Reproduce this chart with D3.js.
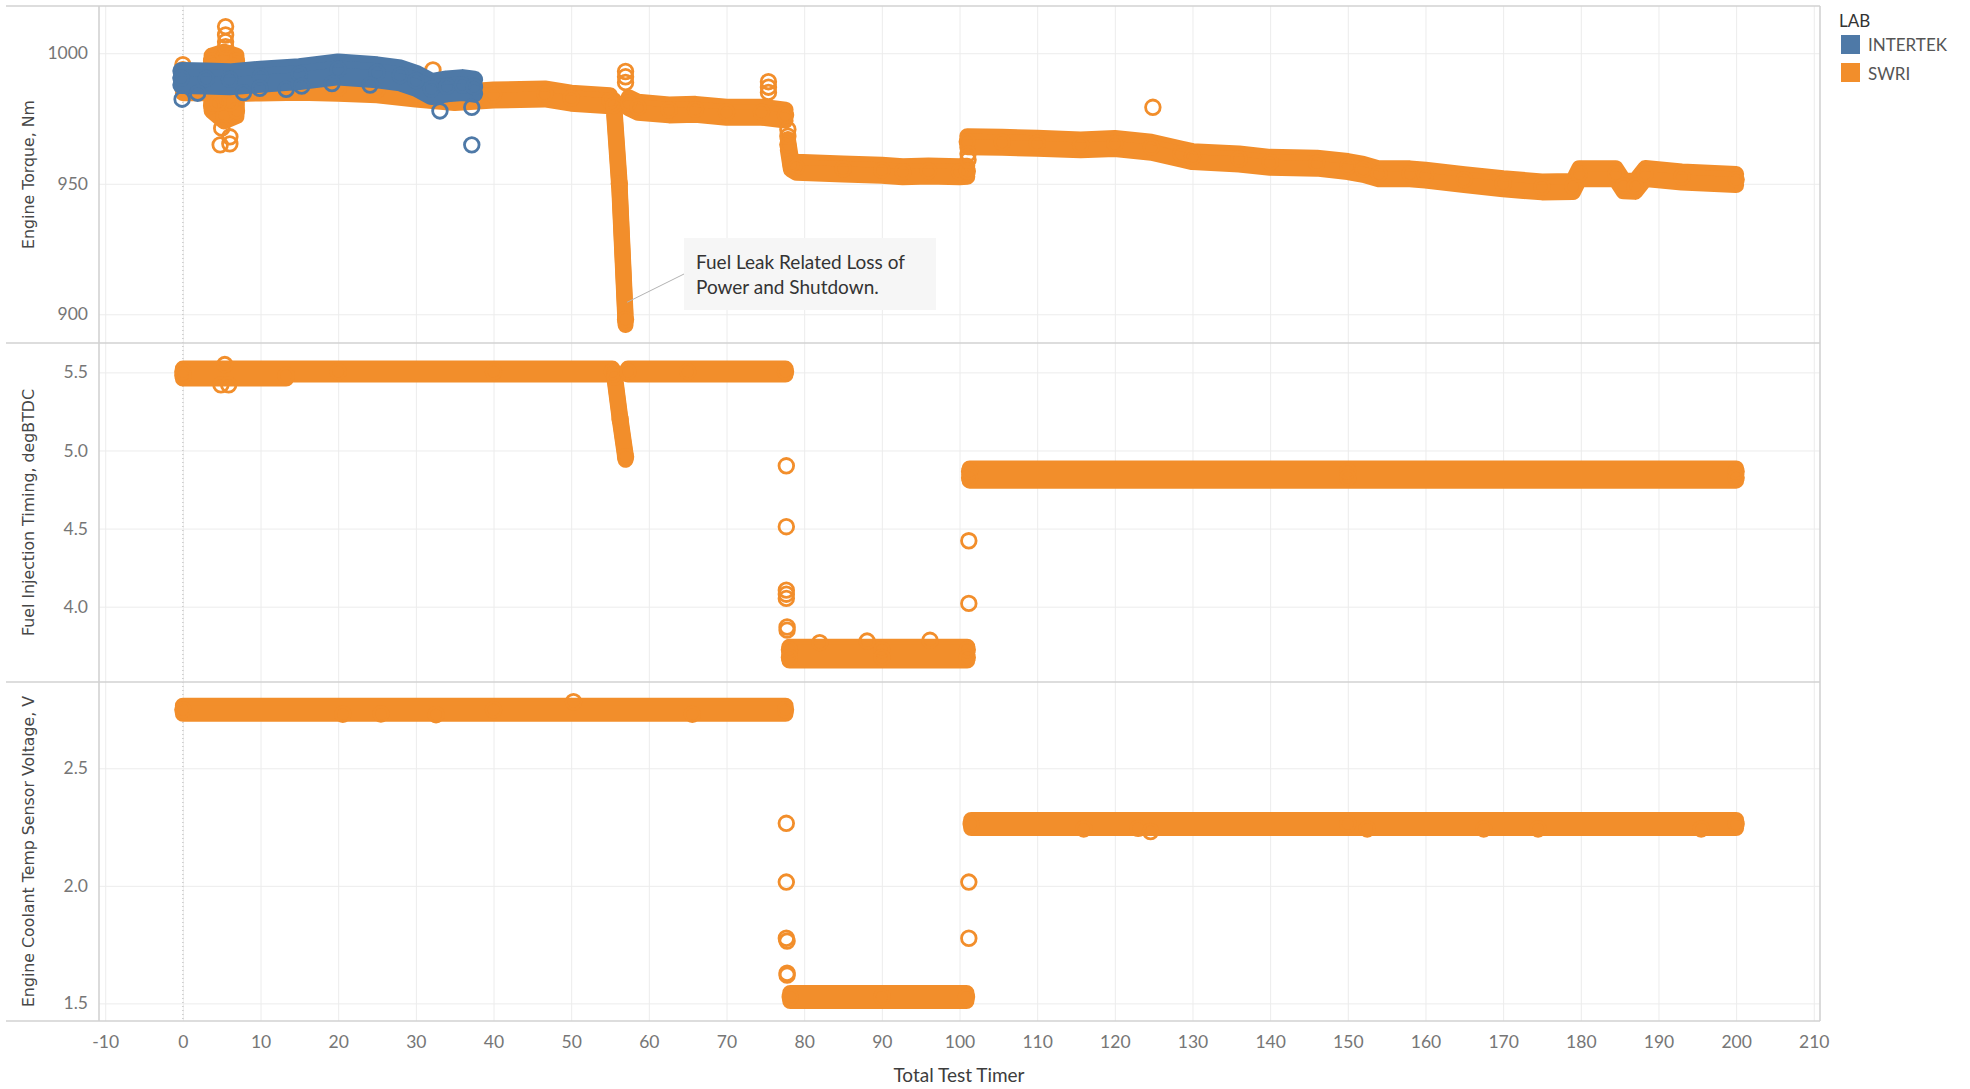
<!DOCTYPE html>
<html>
<head>
<meta charset="utf-8">
<script src="https://cdn.jsdelivr.net/npm/d3@7"></script>
<style>
  html, body { margin: 0; padding: 0; background: #ffffff; }
  svg { display: block; }
</style>
</head>
<body>
<svg id="chart" width="1970" height="1089"></svg>
<script>
// ---------------- DATA ----------------
const labs = ["INTERTEK", "SWRI"];
const labColors = ["#4e79a7", "#f28e2b"];

const xTicks = [-10, 0, 10, 20, 30, 40, 50, 60, 70, 80, 90, 100, 110, 120, 130, 140, 150, 160, 170, 180, 190, 200, 210];
const torqueTicks = [900, 950, 1000];
const timingTicks = [4.0, 4.5, 5.0, 5.5];
const voltageTicks = [1.5, 2.0, 2.5];

const xTitle = "Total Test Timer";
const paneTitles = ["Engine Torque, Nm", "Fuel Injection Timing, degBTDC", "Engine Coolant Temp Sensor Voltage, V"];

// Engine torque, SWRI: dense trace [time, Nm]; null = gap between runs
const torqueSWRI = [
  [0, 986.8], [3, 986.8], [7, 986.5], [10, 986.7], [15, 987], [20, 986.6], [25, 986], [30, 984.4],
  [35, 983], [40, 984], [46.6, 984.4], [50, 982.8], [55, 981.8],
  null,
  [55.5, 980], [56.2, 950], [57.0, 898],
  null,
  [57.4, 981], [58.6, 979.3], [62.6, 978.3], [66, 978.5], [70, 977.4], [74.5, 977.4], [77.6, 976.3],
  null,
  [77.9, 965], [78.3, 957.5], [79, 956.3], [85, 955.7], [90, 955.2], [92.7, 954.6], [96, 954.9], [100, 954.6], [101, 954.8],
  null,
  [101, 966.1], [105.5, 965.9], [110, 965.5], [115.6, 964.9], [120, 965.4], [124.7, 964], [128.5, 961.4],
  [130, 960.4], [136, 959.5], [140, 958.2], [146, 957.9], [150, 956.6], [152, 955.5], [154, 953.8],
  [158, 953.8], [160, 953.3], [165, 951.6], [170, 950], [175, 948.8], [179, 949], [179.8, 953.8],
  [184.5, 953.8], [185.5, 949.2], [187, 949], [188.3, 953.9], [193, 952.6], [200, 951.6],
  null,
  [3.7, 997], [3.7, 980], [5.3, 976], [6.9, 978], [6.9, 997], [5.3, 998.5], [3.7, 997],
  null,
  [4.5, 994], [6.1, 994], [6.1, 981], [4.5, 981]
];
const torqueSWRIOutliers = [
  [0, 995.6], [0, 993.7], [5.5, 1010.2], [5.5, 1007], [5.5, 1004.4], [5.5, 1002.5],
  [5.0, 971.3], [6.05, 968], [4.8, 964.9], [6.05, 965.3], [32.2, 993.6],
  [57.0, 993], [57.0, 991], [57.0, 988.8], [75.4, 989.1], [75.4, 987], [75.4, 985],
  [77.9, 970.8], [77.9, 968.2], [101.1, 961.5], [101.1, 959.2], [124.9, 979.3]
];

// Engine torque, INTERTEK
const torqueINTERTEK = [
  [-0.2, 990.5], [3, 990.3], [6, 990], [10, 991], [15, 992], [20, 993.8], [25, 992.7], [28, 991.5],
  [30, 989.5], [32, 986.3], [34, 987.3], [36, 987.8], [37.5, 987.2]
];
const torqueINTERTEKOutliers = [
  [-0.1, 982.4], [1.9, 984.7], [7.8, 984.9], [9.9, 986.6], [13.3, 986.2], [15.3, 987.4],
  [19.2, 988.4], [24.1, 987.8], [33.1, 977.9], [37.2, 979.3], [37.2, 964.9]
];

// Fuel injection timing, SWRI [time, degBTDC]
const timingSWRI = [
  [0, 5.505], [20, 5.505], [40, 5.505], [55.3, 5.505],
  null,
  [55.6, 5.47], [56.3, 5.2], [57.0, 4.96],
  null,
  [57.3, 5.505], [65, 5.505], [77.6, 5.505],
  null,
  [0, 5.48], [13.3, 5.48],
  null,
  [78.1, 3.725], [90, 3.725], [101, 3.725],
  null,
  [78.1, 3.675], [90, 3.675], [101, 3.675],
  null,
  [101.3, 4.866], [150, 4.866], [200, 4.866],
  null,
  [101.3, 4.826], [150, 4.826], [200, 4.826]
];
const timingSWRIOutliers = [
  [4.9, 5.42], [5.9, 5.42], [5.4, 5.55],
  [77.7, 4.902], [77.7, 4.512], [77.7, 4.106], [77.7, 4.08], [77.7, 4.053], [77.8, 3.87], [77.8, 3.85],
  [82, 3.77], [88.1, 3.78], [96.2, 3.785], [101.2, 4.422], [101.2, 4.021]
];

// Engine coolant temp sensor voltage, SWRI [time, V]
const voltageSWRI = [
  [0, 2.749], [40, 2.749], [77.6, 2.749],
  null,
  [78.2, 1.527], [90, 1.527], [100.9, 1.527],
  null,
  [101.5, 2.263], [150, 2.263], [200, 2.263]
];
const voltageSWRIOutliers = [
  [20.6, 2.73], [25.5, 2.731], [32.6, 2.728], [65.6, 2.73], [50.3, 2.783],
  [77.7, 2.266], [77.7, 2.016], [77.7, 1.777], [77.8, 1.765], [77.8, 1.628], [77.8, 1.62],
  [101.2, 2.016], [101.2, 1.777],
  [116, 2.242], [123, 2.245], [124.6, 2.231], [152.5, 2.242], [167.5, 2.242], [174.5, 2.242], [195.5, 2.242]
];

const annotationLines = ["Fuel Leak Related Loss of", "Power and Shutdown."];
const annotationPoint = [57.2, 904.6];

// ---------------- LAYOUT ----------------
const svg = d3.select("#chart");
const plotLeft = 99, plotRight = 1820;
const frameLeft = 6;
const paneTops = [6, 343, 682];
const paneBottoms = [343, 682, 1021];
const tickFont = "Lato, 'Open Sans', sans-serif";

const x = d3.scaleLinear().domain([-10.8, 210.8]).range([plotLeft, plotRight]);
const yScales = [
  d3.scaleLinear().domain([889, 1018.1]).range([paneBottoms[0], paneTops[0]]),
  d3.scaleLinear().domain([3.518, 5.688]).range([paneBottoms[1], paneTops[1]]),
  d3.scaleLinear().domain([1.425, 2.867]).range([paneBottoms[2], paneTops[2]])
];
const yTickSets = [torqueTicks, timingTicks, voltageTicks];
const yFormats = [d3.format("d"), d3.format(".1f"), d3.format(".1f")];

const grid = svg.append("g");
[0, 1, 2].forEach(i => {
  grid.append("g")
    .attr("transform", `translate(0,${paneBottoms[i]})`)
    .call(d3.axisBottom(x).tickValues(xTicks).tickSize(-(paneBottoms[i] - paneTops[i])).tickFormat(""))
    .call(g => g.select(".domain").remove())
    .call(g => g.selectAll("line").attr("stroke", "#ececec").attr("stroke-width", 1));
  grid.append("g")
    .attr("transform", `translate(${plotLeft},0)`)
    .call(d3.axisLeft(yScales[i]).tickValues(yTickSets[i]).tickSize(-(plotRight - plotLeft)).tickFormat(""))
    .call(g => g.select(".domain").remove())
    .call(g => g.selectAll("line").attr("stroke", "#ececec").attr("stroke-width", 1));
});

// zero reference line
svg.append("line")
  .attr("x1", x(0)).attr("x2", x(0)).attr("y1", paneTops[0]).attr("y2", paneBottoms[2])
  .attr("stroke", "#b5b5b5").attr("stroke-width", 1).attr("stroke-dasharray", "1,3");

// frame lines
const frame = svg.append("g").attr("stroke", "#d2d2d2").attr("stroke-width", 1.6);
[6, 343, 682, 1021].forEach(yy => {
  frame.append("line").attr("x1", frameLeft).attr("x2", plotRight).attr("y1", yy).attr("y2", yy);
});
frame.append("line").attr("x1", plotLeft).attr("x2", plotLeft).attr("y1", 6).attr("y2", 1021);
frame.append("line").attr("x1", plotRight).attr("x2", plotRight).attr("y1", 6).attr("y2", 1021);

// y axes with labels
[0, 1, 2].forEach(i => {
  const ax = svg.append("g")
    .attr("transform", `translate(${plotLeft},0)`)
    .call(d3.axisLeft(yScales[i]).tickValues(yTickSets[i]).tickSize(0).tickPadding(11).tickFormat(yFormats[i]));
  ax.select(".domain").remove();
  ax.selectAll("text")
    .attr("font-family", tickFont).attr("font-size", 17.5).attr("fill", "#767676");
});

// x axis
const xAx = svg.append("g")
  .attr("transform", `translate(0,${paneBottoms[2]})`)
  .call(d3.axisBottom(x).tickValues(xTicks).tickSize(0).tickPadding(15).tickFormat(d => String(d)));
xAx.select(".domain").remove();
xAx.selectAll("text").attr("font-family", tickFont).attr("font-size", 17.5).attr("fill", "#767676");

svg.append("text")
  .attr("x", 959).attr("y", 1082)
  .attr("text-anchor", "middle")
  .attr("font-family", tickFont).attr("font-size", 19).attr("fill", "#3d3d3d")
  .text(xTitle);

// pane titles
paneTitles.forEach((t, i) => {
  const cy = (paneTops[i] + paneBottoms[i]) / 2;
  svg.append("text")
    .attr("transform", `translate(34,${cy}) rotate(-90)`)
    .attr("text-anchor", "middle")
    .attr("font-family", "'DejaVu Sans', Verdana, sans-serif").attr("font-size", 15.8).attr("fill", "#474747")
    .text(t);
});

// ---------------- MARKS ----------------
// each trace is stroked three times (centre plus offsets up and down) to give the scatter band its thickness
function drawSeries(pane, trace, outliers, color, strokeW, spread) {
  const y = yScales[pane];
  const g = svg.append("g");
  const line = d3.line().defined(d => d !== null).x(d => x(d[0])).y(d => y(d[1]));
  [-spread / 2, 0, spread / 2].forEach(off => {
    g.append("path")
      .datum(trace)
      .attr("d", line)
      .attr("transform", `translate(0,${off})`)
      .attr("fill", "none")
      .attr("stroke", color)
      .attr("stroke-width", strokeW)
      .attr("stroke-linecap", "round")
      .attr("stroke-linejoin", "round");
  });
  const pts = trace.filter(d => d !== null).concat(outliers);
  g.selectAll("circle")
    .data(pts)
    .join("circle")
    .attr("cx", d => x(d[0]))
    .attr("cy", d => y(d[1]))
    .attr("r", 7.3)
    .attr("fill", "none")
    .attr("stroke", color)
    .attr("stroke-width", 2.8);
}

drawSeries(0, torqueSWRI, torqueSWRIOutliers, labColors[1], 16, 11);
drawSeries(0, torqueINTERTEK, torqueINTERTEKOutliers, labColors[0], 18, 14);
drawSeries(1, timingSWRI, timingSWRIOutliers, labColors[1], 16, 6);
drawSeries(2, voltageSWRI, voltageSWRIOutliers, labColors[1], 16, 8);

// ---------------- ANNOTATION ----------------
const boxX = 684, boxY = 238, boxW = 252, boxH = 72;
svg.append("line")
  .attr("x1", x(annotationPoint[0])).attr("y1", yScales[0](annotationPoint[1]))
  .attr("x2", boxX).attr("y2", boxY + 36)
  .attr("stroke", "#b3b3b3").attr("stroke-width", 1);
svg.append("rect")
  .attr("x", boxX).attr("y", boxY).attr("width", boxW).attr("height", boxH)
  .attr("fill", "#f6f6f6").attr("fill-opacity", 0.95);
annotationLines.forEach((t, i) => {
  svg.append("text")
    .attr("x", 696).attr("y", 269 + i * 24.5)
    .attr("font-family", tickFont).attr("font-size", 19).attr("fill", "#333333")
    .text(t);
});

// ---------------- LEGEND ----------------
const legend = svg.append("g");
legend.append("text")
  .attr("x", 1839).attr("y", 27)
  .attr("font-family", tickFont).attr("font-size", 17).attr("fill", "#333333")
  .text("LAB");
labs.forEach((lab, i) => {
  legend.append("rect")
    .attr("x", 1841).attr("y", 35 + i * 28).attr("width", 19).attr("height", 19)
    .attr("fill", labColors[i]);
  legend.append("text")
    .attr("x", 1868).attr("y", 51 + i * 28.5)
    .attr("font-family", tickFont).attr("font-size", 17).attr("fill", "#555555")
    .text(lab);
});
</script>
</body>
</html>
